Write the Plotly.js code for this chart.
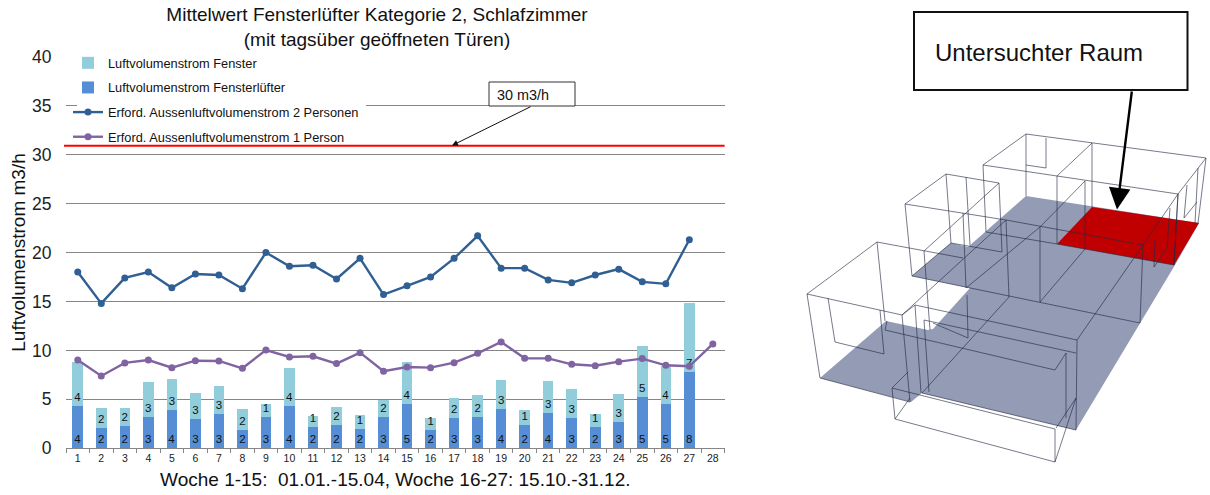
<!DOCTYPE html>
<html><head><meta charset="utf-8">
<script src="https://cdn.plot.ly/plotly-3.0.1.min.js"></script>
<style>html,body{margin:0;padding:0;background:#fff}</style></head>
<body><div id="chart" style="width:1210px;height:495px"></div>
<script>
const weeks = ["1","2","3","4","5","6","7","8","9","10","11","12","13","14","15","16","17","18","19","20","21","22","23","24","25","26","27","28"];
const fanFlow = [4.36,2.04,2.28,3.2,3.88,3.0,3.47,1.87,3.2,4.36,2.14,2.38,1.97,3.2,4.53,1.84,3.06,3.17,3.98,2.38,3.64,3.06,2.14,2.66,5.21,4.56,7.8,null];
const windowFlow = [4.42,2.08,1.81,3.54,3.24,2.62,2.9,2.11,1.36,3.88,1.16,1.84,1.47,1.77,4.32,1.29,2.08,2.24,2.97,1.57,3.24,2.97,1.33,2.86,5.21,3.82,7.01,null];
const fanLabels = ["4","2","2","3","4","3","3","2","3","4","2","2","2","3","5","2","3","3","4","2","4","3","2","3","5","5","8",""];
const windowLabels = ["4","2","2","3","3","3","3","2","1","4","1","2","1","2","4","1","2","2","3","1","3","3","1","3","5","4","7",""];
const twoPersons = [18.0,14.8,17.4,18.0,16.4,17.8,17.7,16.3,20.0,18.6,18.7,17.3,19.4,15.7,16.6,17.5,19.4,21.7,18.4,18.4,17.2,16.9,17.7,18.3,17.0,16.8,21.3,null];
const onePerson = [9.02,7.39,8.72,9.02,8.24,8.95,8.92,8.17,10.04,9.33,9.4,8.65,9.77,7.87,8.31,8.24,8.75,9.7,10.86,9.19,9.19,8.58,8.44,8.85,9.16,8.48,8.38,10.66];
const limitValue = 30.9;

// Floor plan drawing (page-pixel coordinates on the overlay axes)
const floorX = [1026,1199,1175,1076,922,911,820,886,928,933,970,912,951,968];
const floorY = [196,223,265,430,393,402,378,321,330,329,288,276,243,247];
const roomX = [1092,1199,1174,1057];
const roomY = [207,223,265,244];
const wires = [
 [[1026,134],[1092,143],[1206,158],[1178,194],[1057,176],[983,165],[1026,134],[1026,196]],
 [[983,165],[986,232],[1057,244],[1174,265],[1178,194]],
 [[1046,138],[1046,168],[1026,165]],
 [[1092,143],[1057,176],[1057,244]],[[1092,143],[1092,207]],
 [[1085,181],[1040,227],[966,288]],[[1085,181],[1085,249],[1040,302]],
 [[1040,227],[1040,302]],[[1006,220],[1143,245],[1178,194]],
 [[1206,158],[1198,223]],[[1198,168],[1195,223]],[[1187,185],[1184,218],[1197,202]],
 [[1178,194],[1174,265]],[[1170,208],[1167,248],[1154,267]],[[1155,240],[1154,267]],
 [[1143,245],[1140,323]],[[1143,245],[1077,340],[1076,430]],
 [[905,204],[946,174],[999,183],[924,251],[930,330]],
 [[905,204],[912,276],[1140,323]],[[905,204],[1006,220]],
 [[946,174],[951,243],[1002,252],[999,183]],[[966,177],[970,245]],
 [[963,213],[966,288]],[[1006,220],[1009,297],[922,393]],
 [[1006,220],[902,315]],[[951,243],[912,276]],
 [[807,294],[877,242],[963,258]],[[807,294],[902,315],[910,402]],
 [[807,294],[820,378],[910,402]],[[877,242],[885,321]],
 [[828,298],[835,342],[884,354],[880,310]],
 [[902,315],[915,305],[1077,340]],[[915,305],[921,393]],
 [[924,320],[929,392]],[[924,320],[1076,353]],
 [[885,330],[1055,370],[1066,353],[1066,418]],[[885,330],[887,321]],
 [[933,323],[968,338],[967,295]],
 [[908,372],[892,388],[1055,429],[1055,462],[895,419],[892,388]],
 [[895,419],[910,398]],[[922,393],[1076,430]],
 [[1055,462],[1076,398]],[[1056,428],[1076,398]]
];
const wireX = wires.flatMap(p => p.map(c => c[0]).concat([null]));
const wireY = wires.flatMap(p => p.map(c => c[1]).concat([null]));

const FONT = "Liberation Sans, Arial, sans-serif";
const traces = [
 {type:"bar",name:"Luftvolumenstrom Fensterlüfter",x:weeks,y:fanFlow,text:fanLabels,textposition:"inside",insidetextanchor:"start",constraintext:"none",textangle:0,
  insidetextfont:{size:11.5,color:"#111",family:FONT},marker:{color:"#558ED5"},legendrank:2,legendgroup:"b",hoverinfo:"skip"},
 {type:"bar",name:"Luftvolumenstrom Fenster",x:weeks,y:windowFlow,text:windowLabels,textposition:"inside",insidetextanchor:"start",constraintext:"none",textangle:0,
  insidetextfont:{size:11.5,color:"#111",family:FONT},marker:{color:"#92CDDC"},legendrank:1,legendgroup:"a",hoverinfo:"skip"},
 {type:"scatter",mode:"lines+markers",name:"Erford. Aussenluftvolumenstrom 2 Personen",x:weeks,y:twoPersons,line:{color:"#2F5F93",width:2.4},marker:{color:"#2F5F93",size:7},legendrank:3,legendgroup:"c",hoverinfo:"skip"},
 {type:"scatter",mode:"lines+markers",name:"Erford. Aussenluftvolumenstrom 1 Person",x:weeks,y:onePerson,line:{color:"#8064A2",width:2.4},marker:{color:"#8064A2",size:7},legendrank:4,legendgroup:"d",hoverinfo:"skip"},
 {type:"scatter",mode:"none",x:floorX,y:floorY,xaxis:"x2",yaxis:"y2",fill:"toself",fillcolor:"#939BB5",showlegend:false,hoverinfo:"skip"},
 {type:"scatter",mode:"none",x:roomX,y:roomY,xaxis:"x2",yaxis:"y2",fill:"toself",fillcolor:"#C00000",showlegend:false,hoverinfo:"skip"},
 {type:"scatter",mode:"lines",x:wireX,y:wireY,xaxis:"x2",yaxis:"y2",connectgaps:false,line:{color:"rgba(35,40,65,0.62)",width:1},showlegend:false,hoverinfo:"skip"}
];
const layout = {
 width:1210,height:495,margin:{l:0,r:0,t:0,b:0},paper_bgcolor:"#fff",plot_bgcolor:"rgba(0,0,0,0)",
 font:{family:FONT,color:"#111"},barmode:"stack",bargap:0.55,showlegend:true,
 title:{text:"Mittelwert Fensterlüfter Kategorie 2, Schlafzimmer<br>(mit tagsüber geöffneten Türen)",x:377/1210,xanchor:"center",y:1-21/495,yanchor:"top",font:{size:19,color:"#111",family:FONT}},
 legend:{x:68/1210,y:1-48/495,xanchor:"left",yanchor:"top",bgcolor:"rgba(0,0,0,0)",borderwidth:0,traceorder:"grouped",tracegroupgap:5,font:{size:12.8,color:"#111",family:FONT}},
 xaxis:{type:"category",domain:[66/1210,724.6/1210],range:[-0.5,27.5],tickson:"boundaries",ticks:"outside",ticklen:4,tickcolor:"#868686",showline:true,linecolor:"#868686",showgrid:false,zeroline:false,tickfont:{size:10.5,color:"#222",family:FONT},fixedrange:true,anchor:"y",
  title:{text:"Woche 1-15:  01.01.-15.04, Woche 16-27: 15.10.-31.12.",standoff:9,font:{size:19,color:"#111",family:FONT}}},
 yaxis:{domain:[1-448.3/495,1-56.7/495],range:[0,40],dtick:5,ticks:"outside",ticklen:10,tickcolor:"rgba(0,0,0,0)",gridcolor:"#868686",gridwidth:1,zeroline:false,showline:false,tickfont:{size:17.5,color:"#222",family:FONT},fixedrange:true,anchor:"x",
  title:{text:"Luftvolumenstrom m3/h",standoff:1,font:{size:19,color:"#111",family:FONT}}},
 xaxis2:{domain:[0,1],range:[0,1210],visible:false,fixedrange:true,anchor:"y2"},
 yaxis2:{domain:[0,1],range:[495,0],visible:false,fixedrange:true,anchor:"x2"},
 shapes:[
  {type:"rect",layer:"between",xref:"x",yref:"y",x0:-0.03,x1:12.25,y0:32,y1:40.5,line:{width:0},fillcolor:"#fff"},
  {type:"line",xref:"paper",yref:"y",x0:64/1210,x1:724.6/1210,y0:limitValue,y1:limitValue,line:{color:"#FF0000",width:2}},
  {type:"rect",xref:"x2",yref:"y2",x0:489,x1:575,y0:82,y1:106,line:{color:"#333",width:1},fillcolor:"#fff"},
  {type:"rect",xref:"x2",yref:"y2",x0:914,x1:1187.5,y0:12,y1:90,line:{color:"#111",width:2},fillcolor:"#fff"}
 ],
 annotations:[
  {xref:"x2",yref:"y2",x:497,y:94.5,xanchor:"left",text:"30 m3/h",showarrow:false,xshift:-2,font:{size:14.4,color:"#111",family:FONT}},
  {xref:"x2",yref:"y2",x:935,y:52,xanchor:"left",text:"Untersuchter Raum",showarrow:false,xshift:-2,font:{size:24,color:"#111",family:FONT}},
  {xref:"x2",yref:"y2",axref:"x2",ayref:"y2",x:452,y:145.5,ax:532,ay:106,text:"",showarrow:true,arrowhead:2,arrowsize:1.2,arrowwidth:1,arrowcolor:"#111"},
  {xref:"x2",yref:"y2",axref:"x2",ayref:"y2",x:1117,y:209.5,ax:1132,ay:90,text:"",showarrow:true,arrowhead:2,arrowsize:1.8,arrowwidth:2.4,arrowcolor:"#000"}
 ]
};
Plotly.newPlot("chart",traces,layout,{displayModeBar:false,staticPlot:true});
</script></body></html>
